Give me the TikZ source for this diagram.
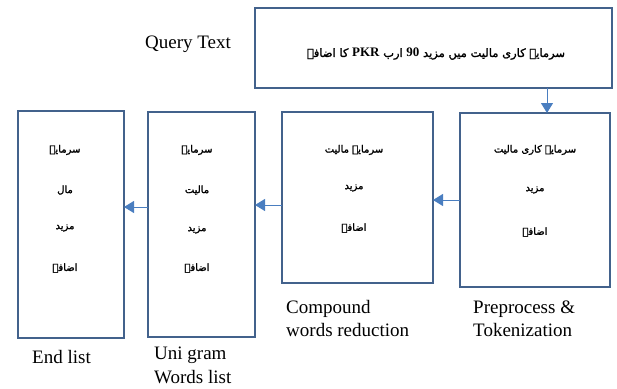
\documentclass[tikz,border=0pt]{standalone}
\usepackage{fontspec}
\setmainfont{Liberation Serif}
\newfontface\urdu{DejaVu Sans}[Script=Arabic, FakeBold=1.6]
\TeXXeTstate=1
\usetikzlibrary{arrows.meta}
\definecolor{boxc}{HTML}{43628C}
\definecolor{arr}{HTML}{4A7EC0}
\begin{document}
\begin{tikzpicture}[x=1pt,y=-1pt,
  box/.style={draw=boxc, line width=2pt, rectangle, inner sep=0pt, outer sep=0pt},
  ur/.style={font=\urdu\fontsize{10}{12}\selectfont, inner sep=0pt},
  urq/.style={font=\urdu\fontsize{11.5}{14}\selectfont, inner sep=0pt},
  lab/.style={font=\fontsize{19}{23}\selectfont, anchor=base west, inner sep=0pt},
  conn/.style={draw=arr, line width=1pt, -{Triangle[length=10pt,width=12pt]}}]
\useasboundingbox (0,0) rectangle (617,388);

% boxes
\node[box, minimum width=357pt, minimum height=80pt] (q) at (433.5,48) {};
\node[box, minimum width=150pt, minimum height=174pt] (b4) at (535,200) {};
\node[box, minimum width=151pt, minimum height=171pt] (b3) at (357.5,197.5) {};
\node[box, minimum width=107pt, minimum height=225pt] (b2) at (201.5,224.5) {};
\node[box, minimum width=106pt, minimum height=227pt] (b1) at (71,224.5) {};

% query text
\node[urq] (qt) at (436,54) {\beginR سرمایہ کاری مالیت میں مزید {\rmfamily\bfseries\fontsize{13}{15}\selectfont\beginL 90\endL{}} ارب {\rmfamily\bfseries\fontsize{13}{15}\selectfont\beginL PKR\endL{}} کا اضافہ\endR};

% box 4 text
\node[ur] (b4a) at (535,150) {\beginR سرمایہ کاری مالیت\endR};
\node[ur] (b4b) at (535,190) {\beginR مزید\endR};
\node[ur] (b4c) at (535,232) {\beginR اضافہ\endR};

% box 3 text
\node[ur] (b3a) at (354,150) {\beginR سرمایہ مالیت\endR};
\node[ur] (b3b) at (354,188) {\beginR مزید\endR};
\node[ur] (b3c) at (354,228) {\beginR اضافہ\endR};

% box 2 text
\node[ur] (b2a) at (197,150) {\beginR سرمایہ\endR};
\node[ur] (b2b) at (197,190) {\beginR مالیت\endR};
\node[ur] (b2c) at (197,230) {\beginR مزید\endR};
\node[ur] (b2d) at (197,268) {\beginR اضافہ\endR};

% box 1 text
\node[ur] (b1a) at (65,150) {\beginR سرمایہ\endR};
\node[ur] (b1b) at (65,190) {\beginR مال\endR};
\node[ur] (b1c) at (65,228) {\beginR مزید\endR};
\node[ur] (b1d) at (65,268) {\beginR اضافہ\endR};

% labels
\node[lab] (lq) at (145,48) {Query Text};
\node[lab] (lp1) at (473,313) {Preprocess \&};
\node[lab] (lp2) at (473,336) {Tokenization};
\node[lab] (lc1) at (286,313) {Compound};
\node[lab] (lc2) at (286,336) {words reduction};
\node[lab] (lu1) at (154,359) {Uni gram};
\node[lab] (lu2) at (154,383) {Words list};
\node[lab] (le) at (32,363) {End list};

% connectors
\coordinate (xq) at (547,0);
\coordinate (y3) at (0,205);
\coordinate (y2) at (0,207);
\draw[conn] (q.south -| xq) -- (b4.north -| xq);
\draw[conn] (b4.west) -- (b3.east |- b4.west);
\draw[conn] (b3.west |- y3) -- (b2.east |- y3);
\draw[conn] (b2.west |- y2) -- (b1.east |- y2);
\end{tikzpicture}
\end{document}
